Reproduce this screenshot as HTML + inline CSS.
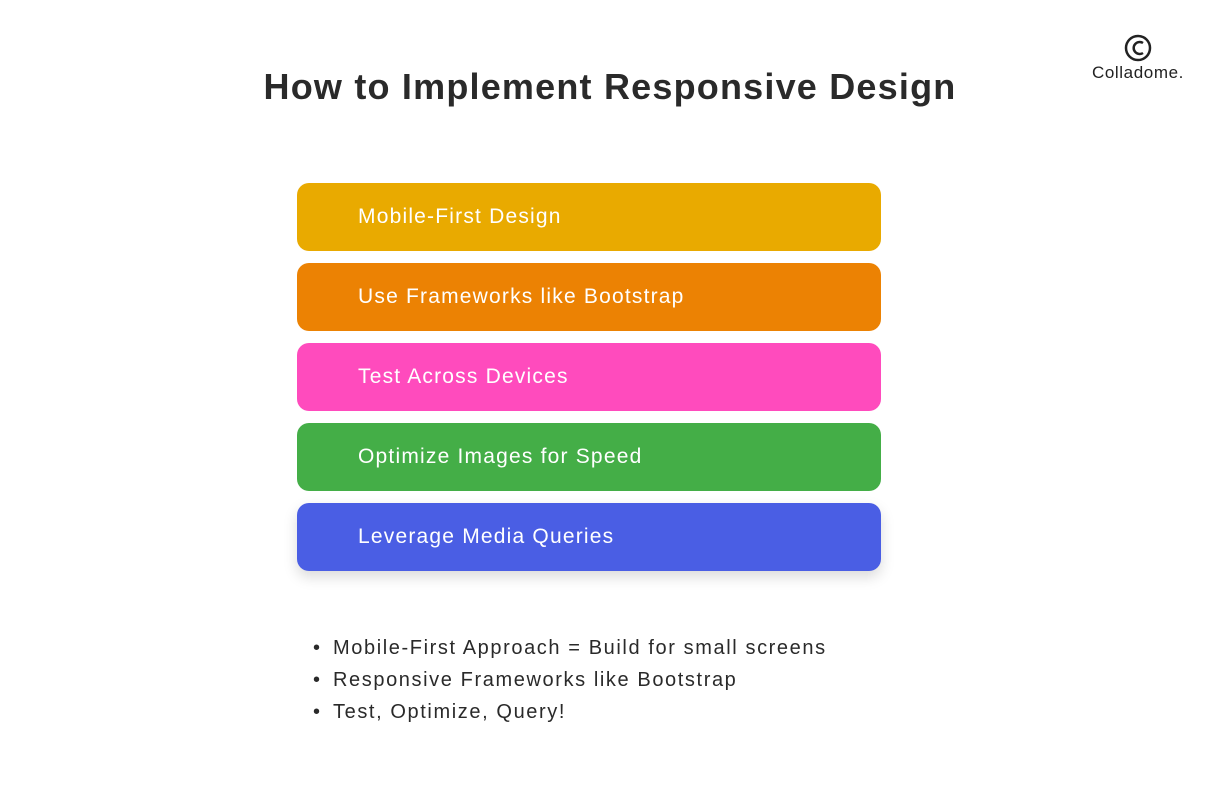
<!DOCTYPE html>
<html><head><meta charset="utf-8"><style>
body{margin:0;width:1220px;height:806px;background:#fff;font-family:"Liberation Sans",sans-serif;position:relative;overflow:hidden}
h1{position:absolute;top:66px;left:0;width:1220px;text-align:center;margin:0;font-size:36px;letter-spacing:1.2px;font-weight:bold;color:#2a2a2a}
.bar{position:absolute;left:297px;width:584px;height:68px;border-radius:12px;color:#fff;font-size:21px;letter-spacing:1.2px;line-height:68px;padding-left:61px;box-sizing:border-box}
ul{position:absolute;left:313px;top:632px;margin:0;padding:0;list-style:none;font-size:20px;color:#2a2a2a;letter-spacing:1.6px}
li{height:32px;line-height:32px}
li:before{content:"•";display:inline-block;width:20px}
.logo{position:absolute;left:1088px;top:33px;width:100px;text-align:center;font-size:17px;letter-spacing:0.6px;color:#222}
</style></head><body>
<div class="logo"><svg width="30" height="30" viewBox="0 0 30 30" style="display:block;margin:0 0 0 35px"><circle cx="15" cy="15" r="12" fill="none" stroke="#222" stroke-width="2.5"/><path d="M20 10 A6 6 0 1 0 20 20" fill="none" stroke="#222" stroke-width="2.5"/></svg><div style="margin-top:0px">Colladome.</div></div>
<h1>How to Implement Responsive Design</h1>
<div class="bar" style="top:183px;background:#e9aa00">Mobile-First Design</div>
<div class="bar" style="top:263px;background:#ec8203">Use Frameworks like Bootstrap</div>
<div class="bar" style="top:343px;background:#ff4bbd">Test Across Devices</div>
<div class="bar" style="top:423px;background:#44ae47">Optimize Images for Speed</div>
<div class="bar" style="top:503px;background:#4a5ee4;box-shadow:0 6px 14px rgba(0,0,0,0.15)">Leverage Media Queries</div>
<ul><li>Mobile-First Approach = Build for small screens</li><li>Responsive Frameworks like Bootstrap</li><li>Test, Optimize, Query!</li></ul>
</body></html>
